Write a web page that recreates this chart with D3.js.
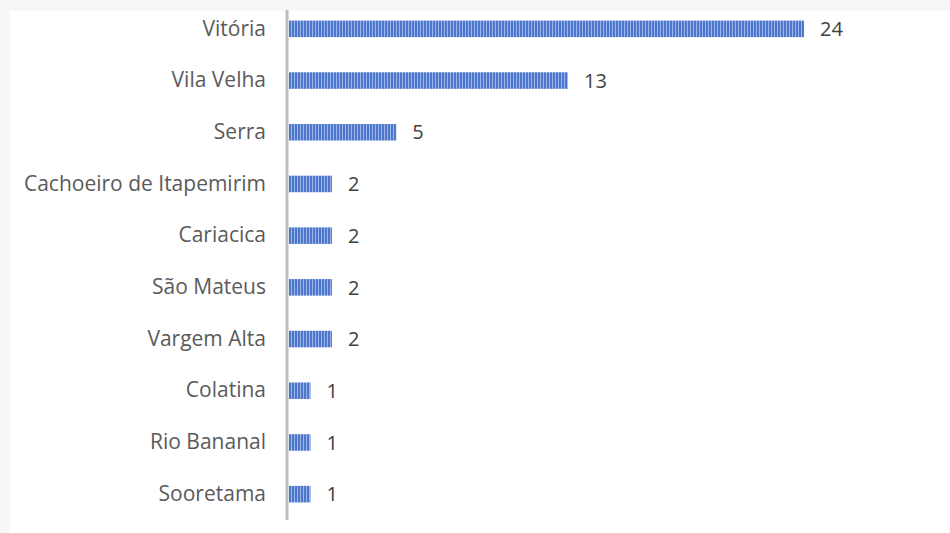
<!DOCTYPE html>
<html>
<head>
<meta charset="utf-8">
<script src="https://cdn.jsdelivr.net/npm/d3@7"></script>
<style>
  body { margin: 0; background: #f7f7f7; }
  svg { display: block; }
</style>
</head>
<body>
<div id="chart"></div>
<script>
// data
var cities = ["Vitória", "Vila Velha", "Serra", "Cachoeiro de Itapemirim", "Cariacica",
              "São Mateus", "Vargem Alta", "Colatina", "Rio Bananal", "Sooretama"];
var counts = [24, 13, 5, 2, 2, 2, 2, 1, 1, 1];

var W = 950, H = 533;
var margin = {top: 3, right: 146, bottom: 13, left: 289};
var width = W - margin.left - margin.right,
    height = H - margin.top - margin.bottom;

var svg = d3.select("#chart")
  .append("svg")
    .attr("width", W)
    .attr("height", H);

// white plot card over light gray page edge
svg.append("rect")
  .attr("x", 10).attr("y", 11)
  .attr("width", W - 10).attr("height", H - 11)
  .attr("fill", "#ffffff");

// striped fill for the bars
var pat = svg.append("defs").append("pattern")
  .attr("id", "stripes")
  .attr("patternUnits", "userSpaceOnUse")
  .attr("width", 3).attr("height", 10);
pat.append("rect").attr("width", 3).attr("height", 10).attr("fill", "#4d77cb");
pat.append("rect").attr("x", 2).attr("width", 1).attr("height", 10).attr("fill", "#9db5e8");

var g = svg.append("g")
  .attr("transform", "translate(" + margin.left + "," + margin.top + ")");

var x = d3.scaleLinear()
  .domain([0, 24])
  .range([0, 515]);

var y = d3.scaleBand()
  .domain(cities)
  .range([0, height])
  .paddingInner(0.68)
  .paddingOuter(0.34);

var font = "'Open Sans', 'Noto Sans', sans-serif";

g.selectAll(".bar")
  .data(cities)
  .enter().append("rect")
    .attr("class", "bar")
    .attr("x", 0)
    .attr("y", function(d) { return y(d); })
    .attr("width", function(d, i) { return x(counts[i]); })
    .attr("height", y.bandwidth())
    .attr("fill", "url(#stripes)");

// value labels
g.selectAll(".val")
  .data(cities)
  .enter().append("text")
    .attr("class", "val")
    .attr("x", function(d, i) { return x(counts[i]) + 16; })
    .attr("y", function(d) { return y(d) + y.bandwidth() / 2; })
    .attr("dy", "0.36em")
    .style("font-family", font)
    .style("font-size", "20px")
    .style("fill", "#404040")
    .text(function(d, i) { return counts[i]; });

// category axis
var yAxis = g.append("g")
  .attr("transform", "translate(-2,0)")
  .call(d3.axisLeft(y).tickSize(0).tickPadding(21));
yAxis.select(".domain").remove();
yAxis.selectAll("text")
  .style("font-family", font)
  .style("font-size", "21px")
  .style("fill", "#5a5a5a");

g.append("line")
  .attr("x1", -2).attr("x2", -2)
  .attr("y1", 7).attr("y2", 517)
  .attr("stroke", "#bfbfbf")
  .attr("stroke-width", 3);
</script>
</body>
</html>
